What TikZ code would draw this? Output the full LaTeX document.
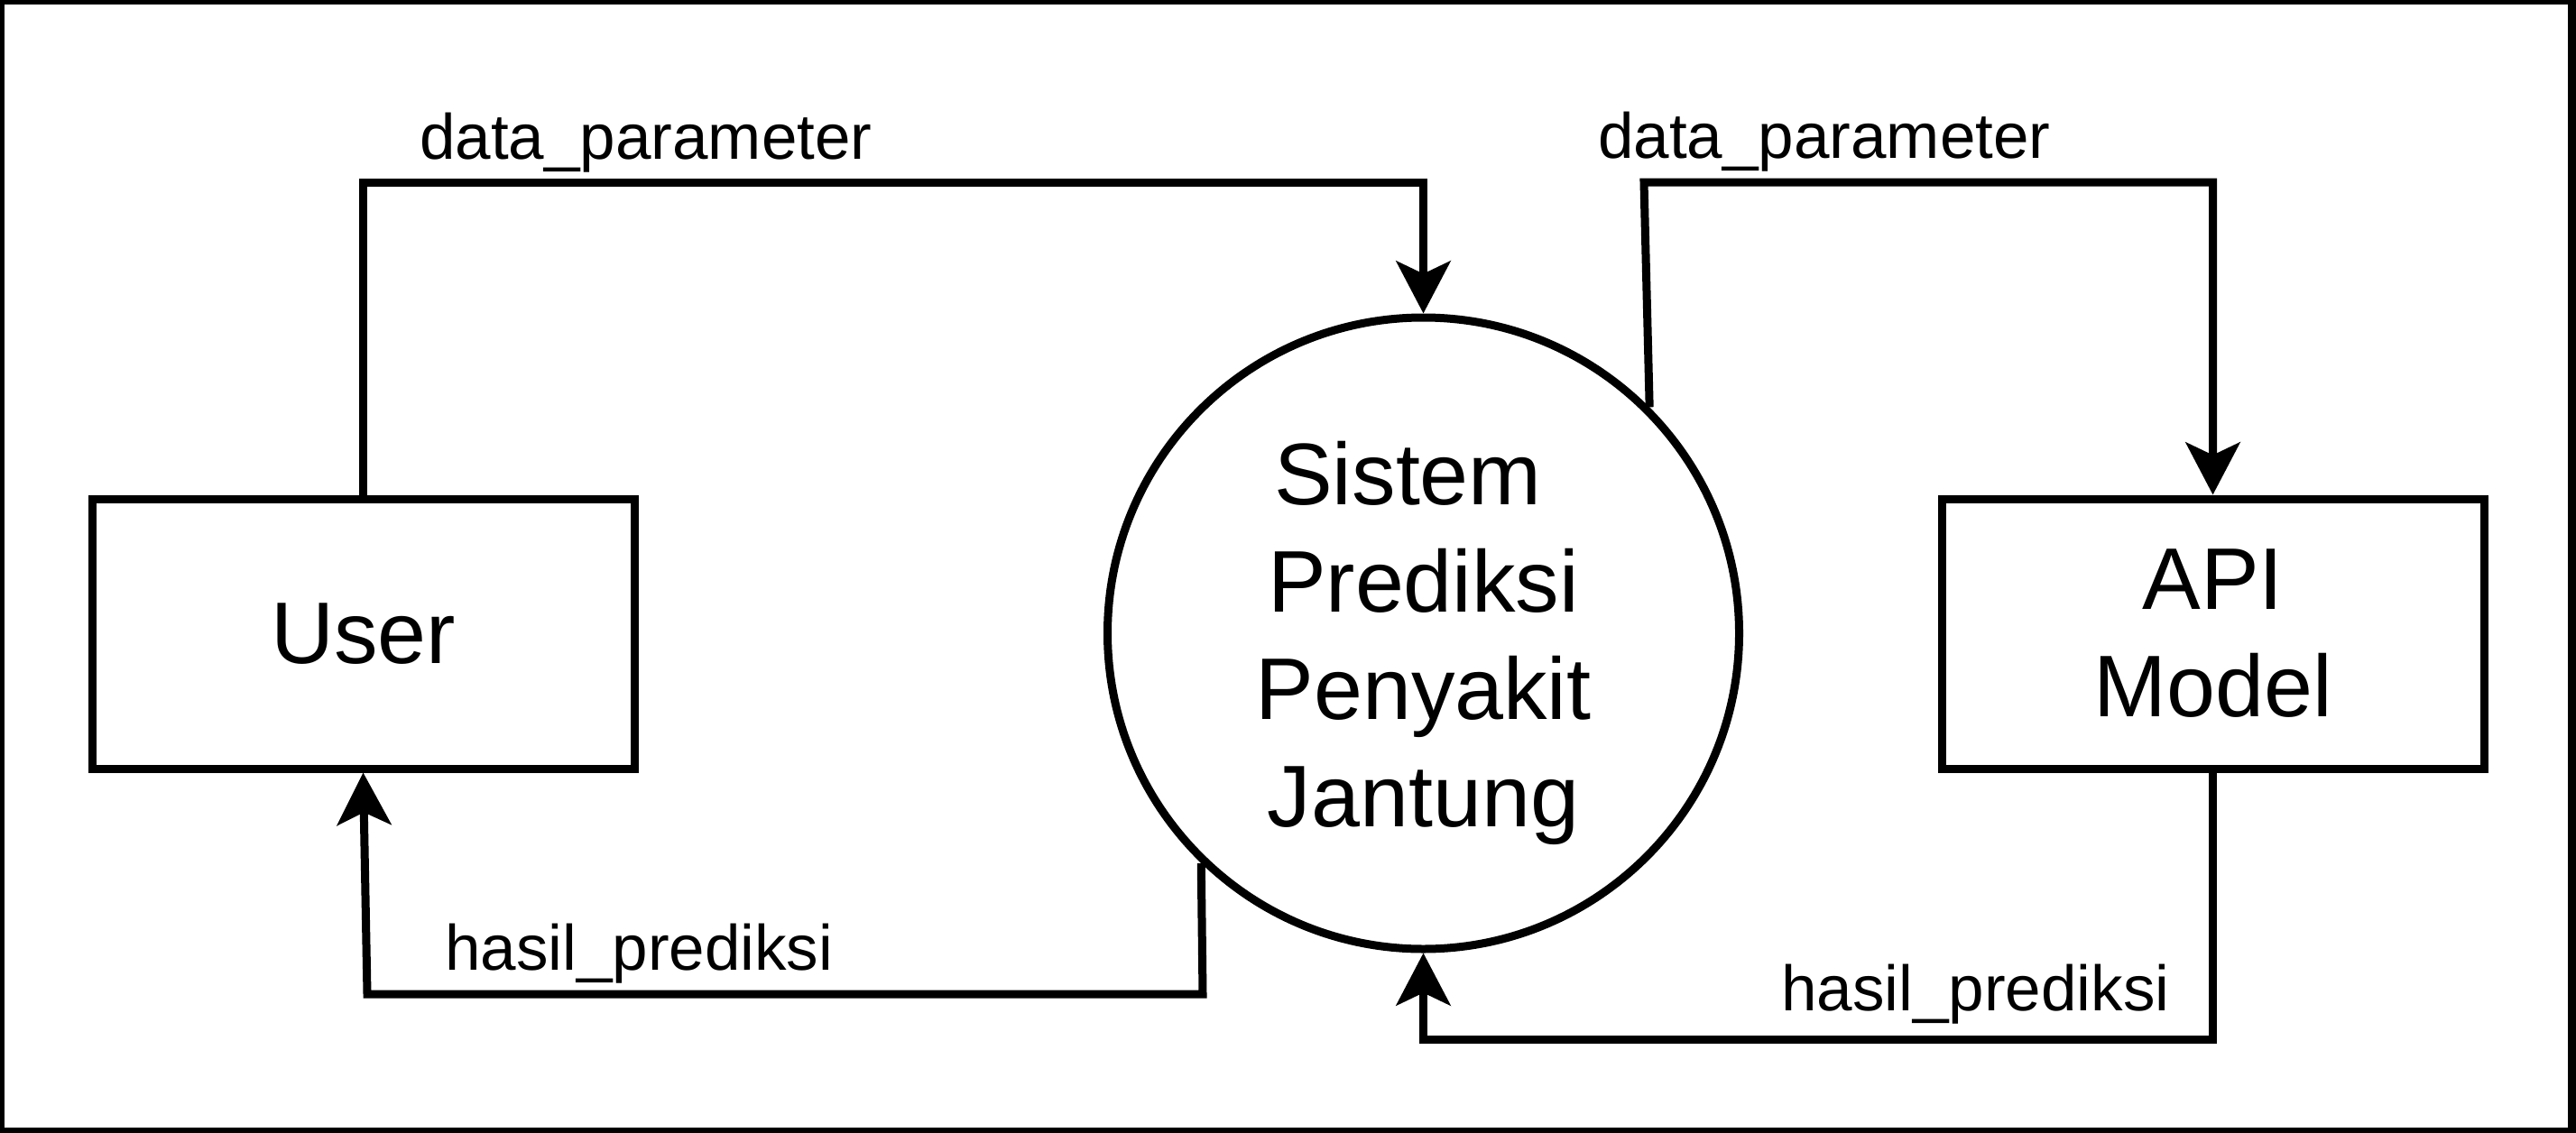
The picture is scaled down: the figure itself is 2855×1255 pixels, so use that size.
\documentclass[tikz,border=0pt]{standalone}
\usepackage{fontspec}
\setmainfont{Liberation Sans}
\usetikzlibrary{arrows.meta}
\begin{document}
\begin{tikzpicture}[x=1pt,y=-1pt,
  ln/.style={line width=9pt},
  box/.style={draw,ln,rectangle,minimum width=601pt,minimum height=299pt,inner sep=0pt,align=center,font=\fontsize{97}{119}\selectfont},
  proc/.style={draw,ln,circle,minimum size=700pt,inner sep=0pt,align=center,font=\fontsize{97}{119}\selectfont},
  flow/.style={ln,line join=miter,-{Stealth[length=58pt,width=60pt,inset=14pt]}},
  lbl/.style={inner sep=0pt,anchor=base west,font=\fontsize{71}{85}\selectfont}]
\useasboundingbox (0,0) rectangle (2855,1255);
\draw[ln] (0.5,0.5) rectangle (2850.5,1254.5);

\node[box] (user) at (402.5,702.5) {User};
\node[box] (api) at (2452.5,702.5) {API\\Model};
\node[proc] (sys) at (1577.5,702) {\rule{0pt}{93pt}Sistem\kern34pt\\Prediksi\\Penyakit\\Jantung};

\draw[flow] (user.north) |- (sys.north |- 0,202) -- (sys.north);
\draw[flow] (sys.45) -- (1822,202) -| (api.north);
\draw[flow] (api.south) |- (sys.south |- 0,1152) -- (sys.south);
\draw[flow] (sys.226) -- (1333,1102) -- (407,1102) -- (user.south);

\node[lbl] (l1) at (465,176) {data\_parameter};
\node[lbl] (l2) at (1771,175) {data\_parameter};
\node[lbl] (l3) at (493,1075) {hasil\_prediksi};
\node[lbl] (l4) at (1974,1120) {hasil\_prediksi};
\end{tikzpicture}
\end{document}
